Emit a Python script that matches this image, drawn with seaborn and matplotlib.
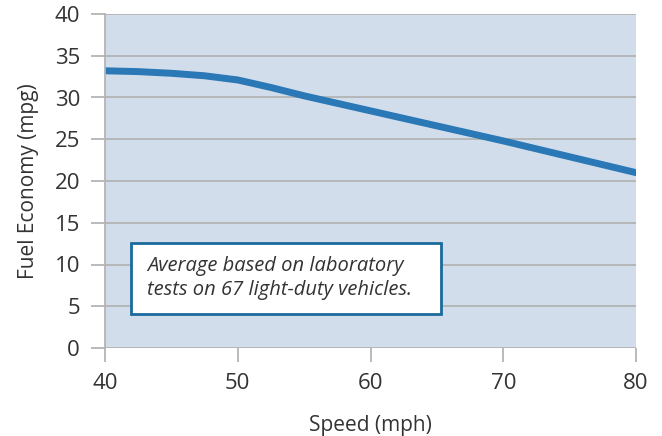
import numpy as np
import pandas as pd
import matplotlib.pyplot as plt
import seaborn as sns
from matplotlib.patches import Rectangle

# data
speed = [40, 42.5, 45, 47.5, 50, 52.5, 55, 60, 65, 70, 75, 80]
mpg = [33.2, 33.1, 32.9, 32.6, 32.1, 31.2, 30.2, 28.4, 26.6, 24.8, 22.9, 21.0]
y_ticks = [0, 5, 10, 15, 20, 25, 30, 35, 40]
x_ticks = [40, 50, 60, 70, 80]
note = "Average based on laboratory\ntests on 67 light-duty vehicles."

df = pd.DataFrame({"Speed": speed, "MPG": mpg})

sns.set_theme(style="white")
plt.rcParams['font.family'] = ['Open Sans', 'DejaVu Sans']

fig = plt.figure(figsize=(6.62, 4.36), dpi=100)
ax = fig.add_axes([105 / 662, 1 - 348 / 436, 531 / 662, 334 / 436])
ax.set_facecolor('#d2ddec')

sns.lineplot(data=df, x="Speed", y="MPG", ax=ax, color='#2a78b5', linewidth=5,
             solid_capstyle='round', solid_joinstyle='round')

ax.set_xlim(40, 80)
ax.set_ylim(0, 40)
ax.set_xticks(x_ticks)
ax.set_yticks(y_ticks)
ax.yaxis.grid(True, color='#b4b4b4', linewidth=1.3)
ax.set_axisbelow(True)

for s in ['top', 'right', 'bottom']:
    ax.spines[s].set_visible(False)
ax.spines['left'].set_color('#b4b4b4')
ax.spines['left'].set_linewidth(1.3)

ax.tick_params(axis='y', length=10, width=1.3, color='#b4b4b4', labelsize=16,
               labelcolor='#333333', pad=8, left=True)
ax.tick_params(axis='x', length=10, width=1.3, color='#b4b4b4', labelsize=16,
               labelcolor='#333333', pad=8, bottom=True)

ax.set_xlabel("Speed (mph)", fontsize=15, color='#333333', labelpad=15)
ax.set_ylabel("Fuel Economy (mpg)", fontsize=15, color='#333333', labelpad=11)

# note box
ax.add_patch(Rectangle((26 / 531, 34 / 334), 310 / 531, 71 / 334, transform=ax.transAxes,
                       facecolor='white', edgecolor='#1b6a9c', linewidth=2, zorder=3))
ax.text(42 / 531, 70 / 334, note, transform=ax.transAxes, fontsize=14.5, style='italic',
        color='#333333', va='center', ha='left', linespacing=1.25, zorder=4)

fig.savefig('out.png', dpi=100)
